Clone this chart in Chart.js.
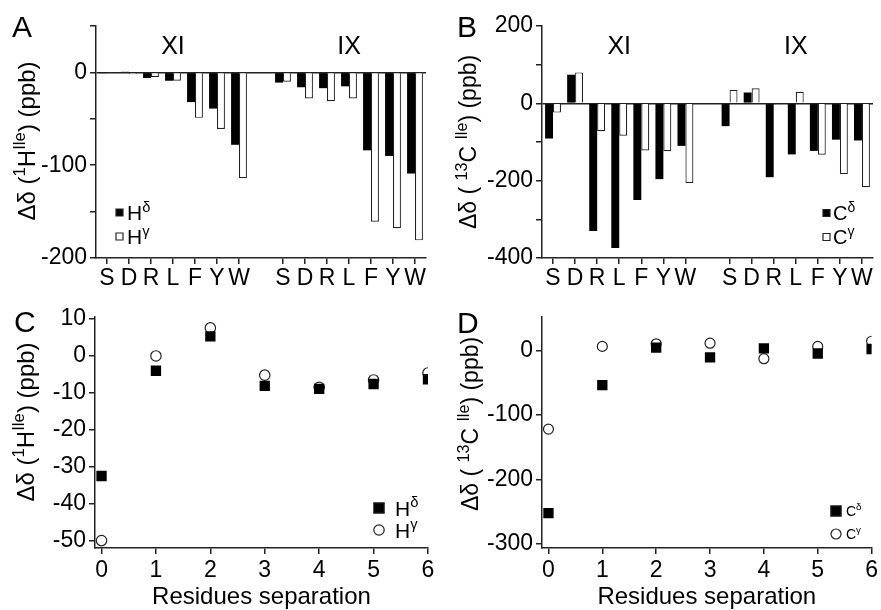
<!DOCTYPE html>
<html>
<head>
<meta charset="utf-8">
<script src="https://cdn.jsdelivr.net/npm/chart.js@4.4.0/dist/chart.umd.min.js"></script>
<style>
body { margin: 0; background: #fff; }
#wrap { position: relative; width: 881px; height: 610px; overflow: hidden; }
canvas { position: absolute; }
</style>
</head>
<body>
<div id="wrap">
	<canvas id="chartA" style="left:0;top:0;width:440px;height:300px" width="440" height="300"></canvas>
	<canvas id="chartB" style="left:440px;top:0;width:441px;height:300px" width="441" height="300"></canvas>
	<canvas id="chartC" style="left:0;top:300px;width:440px;height:310px" width="440" height="310"></canvas>
	<canvas id="chartD" style="left:440px;top:300px;width:441px;height:310px" width="441" height="310"></canvas>
</div>
<script>
// residues, two peptide groups separated by an empty slot
var residues = ['S','D','R','L','F','Y','W','','S','D','R','L','F','Y','W'];
var groupNames = ['XI','IX'];
var groupCenters = [3, 11];

// panel A, 1H (ppb)
var hDelta = [-0.5, 1, -6, -9, -32, -39, -78, null, -11, -16, -17, -15, -84, -90, -109];
var hGamma = [-1, -2, -5, -9, -49, -61, -114, null, -10, -28, -31, -28, -161, -168, -181];
// panel B, 13C (ppb)
var cDelta = [-91, 74, -330, -374, -250, -196, -110, null, -59, 28, -191, -132, -123, -94, -96];
var cGamma = [-24, 80, -72, -84, -122, -124, -206, null, 35, 39, -3, 30, -133, -183, -217];

// panels C and D, versus residues separation
var separation = [0, 1, 2, 3, 4, 5, 6];
var sepHDelta = [-32.5, -4, 5.3, -8.1, -8.9, -7.6, -6.3];
var sepHGamma = [-50, 0, 7.6, -5.2, -8.5, -6.5, -4.6];
var sepCDelta = [-252, -54, 4, -11, 3, -5, 2];
var sepCGamma = [-122, 6, 10, 11, -13, 6, 14];

// tick values and labels
var ticksA = [-200, -150, -100, -50, 0, 50];
var labelsA = ['-200', '', '-100', '', '0', ''];
var ticksB = [-400, -300, -200, -100, 0, 100, 200];
var labelsB = ['-400', '', '-200', '', '0', '', '200'];
var ticksC = [-50, -40, -30, -20, -10, 0, 10];
var labelsC = ['-50', '-40', '-30', '-20', '-10', '0', '10'];
var ticksD = [-300, -200, -100, 0];
var labelsD = ['-300', '-200', '-100', '0'];
var sepTicks = [0, 1, 2, 3, 4, 5, 6];
var sepLabels = ['0', '1', '2', '3', '4', '5', '6'];

var FONT = '"Liberation Sans", Arial, Helvetica, sans-serif';
var INK = '#222';

Chart.defaults.font.family = FONT;
Chart.defaults.color = '#000';

// text with {superscript} parts
function drawRich(ctx, str, x, y, size, align){
	var parts = [];
	str.replace(/\{([^}]*)\}|[^{]+/g, function(m, sup){
		parts.push(sup !== undefined ? { t: sup, sup: true } : { t: m, sup: false });
	});
	var supSize = size * 0.7;
	var w = 0;
	parts.forEach(function(p){
		ctx.font = (p.sup ? supSize : size) + 'px ' + FONT;
		p.w = ctx.measureText(p.t).width;
		w += p.w;
	});
	var cx = align === 'center' ? x - w / 2 : x;
	var base = y + size * 0.36;
	ctx.textAlign = 'left';
	ctx.textBaseline = 'alphabetic';
	parts.forEach(function(p){
		ctx.font = (p.sup ? supSize : size) + 'px ' + FONT;
		ctx.fillText(p.t, cx, p.sup ? base - size * 0.4 : base);
		cx += p.w;
	});
}

var panelDecor = {
	id: 'panelDecor',
	afterDraw: function(chart, args, o){
		var ctx = chart.ctx;
		ctx.save();
		ctx.fillStyle = '#000';
		ctx.font = '30px ' + FONT;
		ctx.textAlign = 'left';
		ctx.textBaseline = 'alphabetic';
		ctx.fillText(o.letter, o.letterAt[0], o.letterAt[1]);

		ctx.save();
		ctx.translate(o.titleAt[0], o.titleAt[1]);
		ctx.rotate(-Math.PI / 2);
		drawRich(ctx, o.title, 0, 0, o.titleSize, 'center');
		ctx.restore();

		if (o.groups) {
			var xs = chart.scales.x;
			ctx.font = '25px ' + FONT;
			ctx.textAlign = 'center';
			ctx.textBaseline = 'middle';
			o.groups.forEach(function(name, i){
				ctx.fillText(name, xs.getPixelForValue(o.groupAt[i]), o.groupY);
			});
		}

		var lg = o.legend;
		chart.data.datasets.forEach(function(ds, i){
			var y = lg.y + i * lg.gap;
			ctx.fillStyle = ds.backgroundColor;
			ctx.strokeStyle = INK;
			ctx.lineWidth = 1.2;
			ctx.beginPath();
			if (ds.pointStyle === 'circle') {
				ctx.arc(lg.x, y, ds.pointRadius, 0, Math.PI * 2);
			} else {
				var s = lg.box || ds.pointRadius * Math.SQRT1_2;
				ctx.rect(lg.x - s, y - s, 2 * s, 2 * s);
			}
			ctx.fill();
			ctx.stroke();
			ctx.fillStyle = '#000';
			drawRich(ctx, ds.label, lg.textX, y, lg.size, 'left');
		});
		ctx.restore();
	}
};

function yAxis(min, max, width, ticks, labels, zeroLine){
	return {
		min: min,
		max: max,
		afterFit: function(s){ s.width = width; },
		afterBuildTicks: function(s){ s.ticks = ticks.map(function(v){ return { value: v }; }); },
		ticks: {
			autoSkip: false,
			padding: 3,
			font: { size: 23 },
			color: '#000',
			callback: function(v, i){ return labels[i]; }
		},
		grid: {
			drawOnChartArea: zeroLine,
			color: function(c){ return c.tick && c.tick.value === 0 ? INK : 'rgba(0,0,0,0)'; },
			tickColor: INK,
			tickLength: 6,
			lineWidth: 1.5
		},
		border: { color: INK, width: 1.5 }
	};
}

function barChart(id, d1, d2, yMin, yMax, yWidth, ticks, labels, padding, decor){
	new Chart(document.getElementById(id), {
		type: 'bar',
		data: {
			labels: residues,
			datasets: [
				{ label: decor.names[0], data: d1, backgroundColor: '#000', borderWidth: 0 },
				{ label: decor.names[1], data: d2, backgroundColor: '#fff', borderColor: INK, borderWidth: 1.2 }
			]
		},
		options: {
			responsive: false,
			animation: false,
			layout: { padding: padding },
			datasets: { bar: { barPercentage: 1.0, categoryPercentage: 0.72 } },
			plugins: { legend: { display: false }, tooltip: { enabled: false }, panelDecor: decor },
			scales: {
				x: {
					offset: true,
					afterFit: function(s){ s.height = 42; },
					ticks: { autoSkip: false, maxRotation: 0, padding: 1, font: { size: 23 }, color: '#000' },
					grid: {
						offset: false,
						drawOnChartArea: false,
						tickLength: 6,
						lineWidth: 1.5,
						tickColor: function(c){ return residues[c.index] ? INK : 'rgba(0,0,0,0)'; }
					},
					border: { color: INK, width: 1.5 }
				},
				y: yAxis(yMin, yMax, yWidth, ticks, labels, true)
			}
		},
		plugins: [panelDecor]
	});
}

function scatterChart(id, d1, d2, yMin, yMax, yWidth, ticks, labels, padding, decor, rects, dots){
	function pts(v){ return separation.map(function(x, i){ return { x: x, y: v[i] }; }); }
	new Chart(document.getElementById(id), {
		type: 'scatter',
		data: {
			datasets: [
				{ label: decor.names[0], data: pts(d1), pointStyle: 'rect', pointRadius: rects, backgroundColor: '#000', borderColor: '#000', borderWidth: 0 },
				{ label: decor.names[1], data: pts(d2), pointStyle: 'circle', pointRadius: dots, backgroundColor: '#fff', borderColor: INK, borderWidth: 1.2 }
			]
		},
		options: {
			responsive: false,
			animation: false,
			layout: { padding: padding },
			plugins: { legend: { display: false }, tooltip: { enabled: false }, panelDecor: decor },
			scales: {
				x: {
					type: 'linear',
					min: -0.12,
					max: 6,
					afterFit: function(s){ s.height = 62; },
					afterBuildTicks: function(s){ s.ticks = sepTicks.map(function(v){ return { value: v }; }); },
					ticks: {
						autoSkip: false,
						maxRotation: 0,
						padding: 3,
						font: { size: 23 },
						color: '#000',
						callback: function(v, i){ return sepLabels[i]; }
					},
					grid: { drawOnChartArea: false, tickLength: 6, lineWidth: 1.5, tickColor: INK },
					border: { color: INK, width: 1.5 },
					title: { display: true, text: 'Residues separation', font: { size: 24 }, color: '#000', padding: { top: 0, bottom: -2 } }
				},
				y: yAxis(yMin, yMax, yWidth, ticks, labels, false)
			}
		},
		plugins: [panelDecor]
	});
}

barChart('chartA', hDelta, hGamma, -200, 50, 96, ticksA, labelsA,
	{ left: 0, right: 14, top: 26, bottom: 0 },
	{ letter: 'A', letterAt: [12, 37], title: 'Δδ ({1}H{Ile}) (ppb)', titleAt: [26, 141], titleSize: 24,
	  groups: groupNames, groupAt: groupCenters, groupY: 47,
	  names: ['H{δ}', 'H{γ}'], legend: { x: 119.5, y: 212.5, gap: 24, textX: 127, size: 21, box: 3.5 } });

barChart('chartB', cDelta, cGamma, -400, 200, 102, ticksB, labelsB,
	{ left: 0, right: 8, top: 26, bottom: 0 },
	{ letter: 'B', letterAt: [17, 37], title: 'Δδ ( {13}C {Ile}) (ppb)', titleAt: [28, 142], titleSize: 23,
	  groups: groupNames, groupAt: groupCenters, groupY: 47,
	  names: ['C{δ}', 'C{γ}'], legend: { x: 386.5, y: 213, gap: 24, textX: 393, size: 20, box: 3.5 } });

scatterChart('chartC', sepHDelta, sepHGamma, -52, 10.6, 95, ticksC, labelsC,
	{ left: 0, right: 12, top: 16, bottom: 0 },
	{ letter: 'C', letterAt: [14, 32], title: 'Δδ ({1}H{Ile}) (ppb)', titleAt: [25, 122], titleSize: 24,
	  names: ['H{δ}', 'H{γ}'], legend: { x: 379, y: 208, gap: 22, textX: 395, size: 21 } }, 7.3, 5.2);

scatterChart('chartD', sepCDelta, sepCGamma, -306, 51.5, 102, ticksD, labelsD,
	{ left: 0, right: 8, top: 17, bottom: 0 },
	{ letter: 'D', letterAt: [17, 33], title: 'Δδ ( {13}C {Ile}) (ppb)', titleAt: [30, 124], titleSize: 23,
	  names: ['C{δ}', 'C{γ}'], legend: { x: 396, y: 211, gap: 23, textX: 406, size: 14 } }, 7.3, 5);
</script>
</body>
</html>
